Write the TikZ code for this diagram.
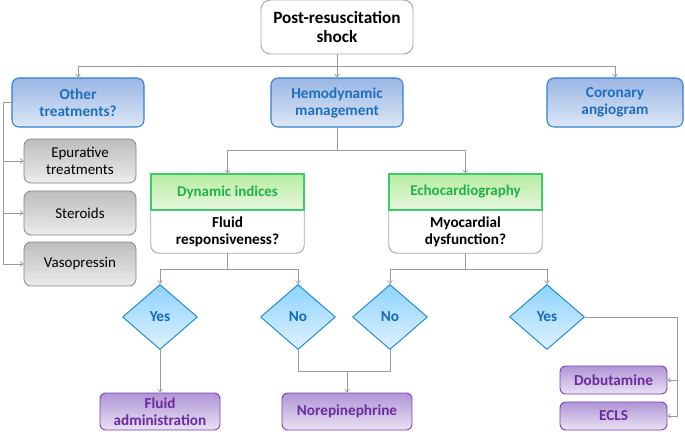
\documentclass[tikz,border=0pt]{standalone}
\usepackage{fontspec}
\setmainfont{Carlito}
\usepackage{tikz}
\usetikzlibrary{positioning,arrows.meta,shapes.geometric,calc}
\usepackage{xcolor}
\definecolor{linkgray}{HTML}{9A9A9A}
\definecolor{boxgray}{HTML}{A8A8A8}
\definecolor{bluedraw}{HTML}{2F80D0}
\definecolor{bluetext}{HTML}{1E6EBE}
\definecolor{bluetop}{HTML}{9AB6E4}
\definecolor{bluebot}{HTML}{DDE7F6}
\definecolor{greydraw}{HTML}{7F7F7F}
\definecolor{greytop}{HTML}{BDBDBD}
\definecolor{greybot}{HTML}{ECECEC}
\definecolor{greendraw}{HTML}{3CCB6A}
\definecolor{greentext}{HTML}{1FB14A}
\definecolor{greentop}{HTML}{B6ECA0}
\definecolor{greenbot}{HTML}{E9F8DF}
\definecolor{diadraw}{HTML}{1C86D6}
\definecolor{diatext}{HTML}{1668B8}
\definecolor{diatop}{HTML}{8ED3FF}
\definecolor{diabot}{HTML}{DFF2FF}
\definecolor{purpdraw}{HTML}{7B3DB3}
\definecolor{purptext}{HTML}{6A2C9C}
\definecolor{purptop}{HTML}{B096D6}
\definecolor{purpbot}{HTML}{E9E1F3}

\begin{document}
\begin{tikzpicture}[
    rootbox/.style={draw=boxgray, fill=white, rounded corners=8pt, line width=0.8pt, font=\fontsize{14.7}{16.5}\selectfont\bfseries, align=center, minimum width=4.56cm, minimum height=1.62cm},
    mainbox/.style={draw=bluedraw, line width=0.9pt, top color=bluetop, bottom color=bluebot, rounded corners=6pt, font=\fontsize{13}{14.5}\selectfont\bfseries, text=bluetext, align=center, minimum height=1.47cm},
    optbox/.style={draw=greydraw, line width=0.6pt, top color=greytop, bottom color=greybot, rounded corners=6pt, font=\fontsize{12.8}{14.5}\selectfont, align=center, minimum width=3.36cm, minimum height=1.32cm},
    headbox/.style={draw=greendraw, line width=0.9pt, top color=greentop, bottom color=greenbot, font=\fontsize{12.8}{14.5}\selectfont\bfseries, text=greentext, align=center, minimum width=4.59cm, minimum height=1.08cm},
    askbox/.style={font=\fontsize{13}{14.5}\selectfont\bfseries, align=center, minimum width=4.59cm, minimum height=1.29cm},
    askframe/.style={draw=boxgray, line width=0.8pt, rounded corners=7pt},
    choice/.style={diamond, draw=diadraw, line width=0.8pt, top color=diatop, bottom color=diabot, font=\fontsize{13}{14.5}\selectfont\bfseries, text=diatext, inner sep=0pt, aspect=1.15, minimum width=2.25cm, minimum height=1.95cm},
    actbox/.style={draw=purpdraw, line width=0.8pt, top color=purptop, bottom color=purpbot, rounded corners=5pt, font=\fontsize{13}{14.5}\selectfont\bfseries, text=purptext, align=center, inner sep=2pt},
    link/.style={draw=linkgray, line width=0.6pt},
    linkto/.style={link, -{Straight Barb[length=2.5pt,width=4pt]}}
]
    \useasboundingbox (0,0) rectangle (20.55,-12.93);

    % Root
    \node[rootbox] (root) at (10.11,-0.81) {Post-resuscitation\\shock};

    % First level
    \node[mainbox, minimum width=3.96cm] (other) at (2.34,-3.075) {Other\\treatments?};
    \node[mainbox, minimum width=3.96cm] (hemo)  at (10.11,-3.075) {Hemodynamic\\management};
    \node[mainbox, minimum width=4.08cm] (coro)  at (18.45,-3.075) {Coronary\\angiogram};

    \coordinate (rootsplit) at (10.11,-1.98);
    \draw[link] (root) -- (rootsplit);
    \draw[linkto] (rootsplit) -| (other);
    \draw[linkto] (rootsplit) -- (hemo);
    \draw[linkto] (rootsplit) -| (coro);

    % Other treatments
    \node[optbox] (epur) at (2.4,-4.83) {Epurative\\treatments};
    \node[optbox] (ster) at (2.4,-6.39) {Steroids};
    \node[optbox] (vaso) at (2.4,-7.92) {Vasopressin};

    \coordinate (otherbus) at (0.09,-3.075);
    \draw[link] (other) -- (otherbus);
    \draw[linkto] (otherbus) |- (epur);
    \draw[linkto] (otherbus) |- (ster);
    \draw[linkto] (otherbus) |- (vaso);

    % Hemodynamic assessment
    \node[askbox] (dynq) at (6.825,-6.945) {Fluid\\responsiveness?};
    \draw[askframe] (dynq.north west) |- (dynq.south) -| (dynq.north east);
    \node[headbox] (dynh) at (6.825,-5.76) {Dynamic indices};

    \node[askbox] (echq) at (13.965,-6.945) {Myocardial\\dysfunction?};
    \draw[askframe] (echq.north west) |- (echq.south) -| (echq.north east);
    \node[headbox] (echh) at (13.965,-5.76) {Echocardiography};

    \coordinate (hemosplit) at (10.11,-4.5);
    \draw[link] (hemo) -- (hemosplit);
    \draw[linkto] (hemosplit) -| (dynh);
    \draw[linkto] (hemosplit) -| (echh);

    % Answers
    \node[choice] (yesa) at (4.8,-9.51)  {Yes};
    \node[choice] (noa)  at (8.94,-9.51) {No};
    \node[choice] (nob)  at (11.7,-9.51) {No};
    \node[choice] (yesb) at (16.41,-9.51) {Yes};

    \coordinate (dynsplit) at (6.825,-8.07);
    \draw[link] (dynq.south) -- (dynsplit);
    \draw[linkto] (dynsplit) -| (yesa);
    \draw[linkto] (dynsplit) -| (noa);

    \coordinate (echsplit) at (13.965,-8.07);
    \draw[link] (echq.south) -- (echsplit);
    \draw[linkto] (echsplit) -| (nob);
    \draw[linkto] (echsplit) -| (yesb);

    % Treatments
    \node[actbox, minimum width=3.6cm, minimum height=1.11cm] (fluid) at (4.8,-12.345) {Fluid\\administration};
    \node[actbox, minimum width=3.9cm, minimum height=1.11cm] (nore) at (10.41,-12.345) {Norepinephrine};
    \node[actbox, minimum width=3.21cm, minimum height=0.84cm] (dobu) at (18.405,-11.4) {Dobutamine};
    \node[actbox, minimum width=3.21cm, minimum height=0.84cm] (ecls) at (18.405,-12.48) {ECLS};

    \draw[linkto] (yesa) -- (fluid);

    \coordinate (noremerge) at (10.41,-11.13);
    \draw[link] (noa.south) |- (noremerge);
    \draw[link] (nob.south) |- (noremerge);
    \draw[linkto] (noremerge) -- (nore);

    \coordinate (yesbus) at (20.31,-9.51);
    \draw[link] (yesb.east) -- (yesbus);
    \draw[linkto] (yesbus) |- (dobu);
    \draw[linkto] (yesbus) |- (ecls);
\end{tikzpicture}
\end{document}
